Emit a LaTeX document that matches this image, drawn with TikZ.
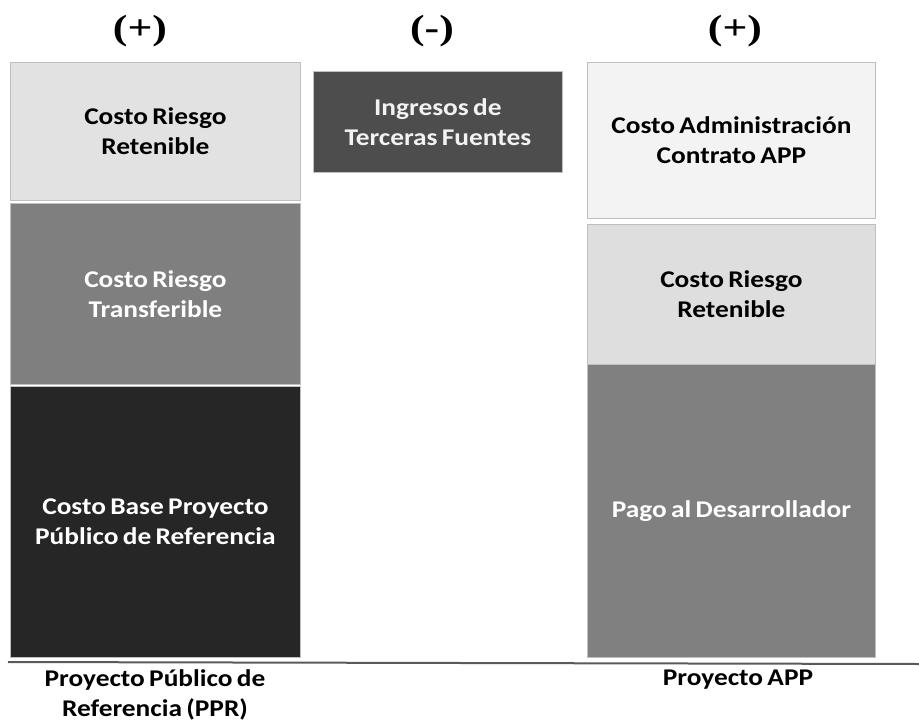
\documentclass[tikz,border=0pt]{standalone}
\usepackage{fontspec}
\newfontfamily\boxfont{Carlito}[FakeStretch=1.14,WordSpace=0.7]
\newfontfamily\signfont{Liberation Serif}[FakeStretch=1.25]
\usetikzlibrary{positioning}
\definecolor{ltgray}{HTML}{E2E2E2}
\definecolor{midgray}{HTML}{7F7F7F}
\definecolor{dkgray}{HTML}{262626}
\definecolor{ingrgray}{HTML}{4D4D4D}
\definecolor{palegray}{HTML}{F3F3F3}
\definecolor{retgray}{HTML}{DEDEDE}
\definecolor{paygray}{HTML}{808080}
\definecolor{axisgray}{HTML}{5A5A5A}
\tikzset{
  block/.style={rectangle, draw=gray!50, line width=0.8pt, anchor=north west, inner sep=0pt, align=center, font=\boxfont\bfseries\fontsize{24}{30}\selectfont},
  sign/.style={font=\signfont\bfseries\fontsize{35}{35}\selectfont},
  caption/.style={align=center, font=\boxfont\bfseries\fontsize{24}{30}\selectfont}
}
\begin{document}
\begin{tikzpicture}[x=1pt,y=-1pt]
			\useasboundingbox (0,0) rectangle (919,723);
			%Signs
			\node[sign] (plusA) at (140,31) {(+)};
			\node[sign] (minus) at (432,31) {(-)};
			\node[sign] (plusB) at (735,31) {(+)};
			%PPR column
			\node[block, fill=ltgray, text=black, minimum width=290pt, minimum height=138pt] (retA) at (10,62) {Costo Riesgo\\Retenible};
			\node[block, fill=midgray, text=white, minimum width=290pt, minimum height=181pt] (trans) at (10,203) {Costo Riesgo\\Transferible};
			\node[block, fill=dkgray, text=white, minimum width=290pt, minimum height=271pt] (base) at (10,386) {Costo Base Proyecto\\P\'ublico de Referencia};
			%Third party income
			\node[block, fill=ingrgray, text=white!90!gray, minimum width=249pt, minimum height=101pt] (ingr) at (313,71) {Ingresos de\\Terceras Fuentes};
			%APP column
			\node[block, fill=palegray, text=black, minimum width=288pt, minimum height=156pt] (adm) at (587,62) {Costo Administraci\'on\\Contrato APP};
			\node[block, fill=retgray, text=black, minimum width=288pt, minimum height=140pt] (retB) at (587,224) {Costo Riesgo\\Retenible};
			\node[block, fill=paygray, text=white, minimum width=288pt, minimum height=293pt] (pago) at (587,364) {Pago al Desarrollador};
			%Axis
			\coordinate (axisL) at (8,662);
			\coordinate (axisR) at (919,664);
			\draw[line width=2pt, axisgray] (axisL) -- (axisR);
			%Captions
			\node[caption] (ppr) at (155,695) {Proyecto P\'ublico de\\Referencia (PPR)};
			\node[caption] (app) at (738,680) {Proyecto APP};
\end{tikzpicture}
\end{document}
